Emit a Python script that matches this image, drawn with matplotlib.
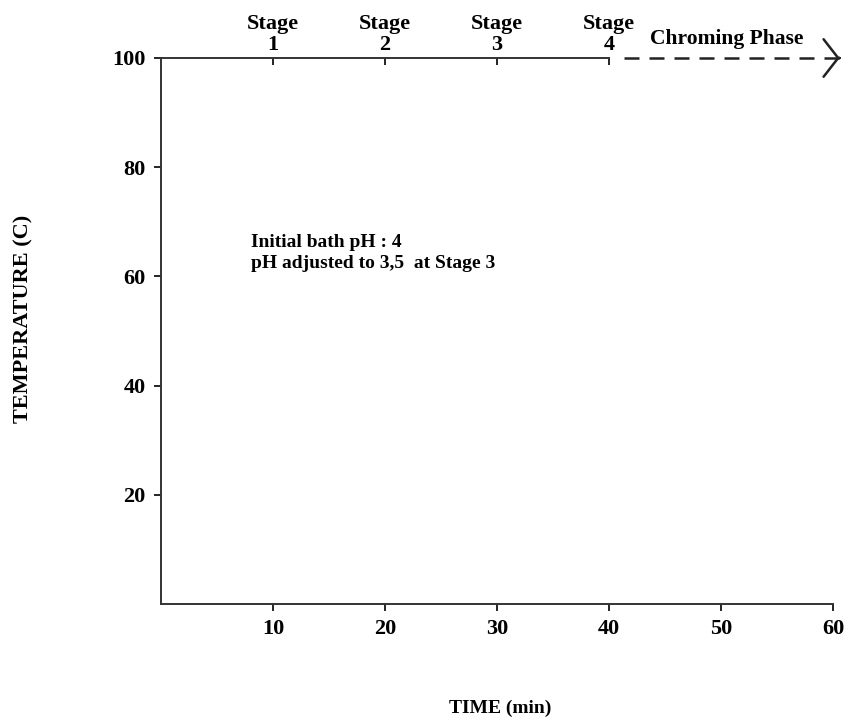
import matplotlib
matplotlib.use("Agg")
import matplotlib.pyplot as plt

plt.rcParams['font.family'] = ['Liberation Serif', 'DejaVu Serif']
plt.rcParams['font.weight'] = 'bold'

# axis values
time_ticks = [10, 20, 30, 40, 50, 60]
temp_ticks = [20, 40, 60, 80, 100]
stage_pos = [10, 20, 30, 40]
stage_labels = ['Stage\n1', 'Stage\n2', 'Stage\n3', 'Stage\n4']
chrome_span = [41.3, 60.6]
chrome_level = [100, 100]
note_lines = ['Initial bath pH : 4', 'pH adjusted to 3,5  at Stage 3']

fig = plt.figure(figsize=(8.44, 7.24), dpi=100)
ax = fig.add_axes([0.1908, 0.1657, 0.7962, 0.7542])

ax.set_xlim(0, 60)
ax.set_ylim(0, 100)
ax.set_xticks(time_ticks)
ax.set_yticks(temp_ticks)
ax.tick_params(axis='both', direction='out', length=5, width=1.2, labelsize=16, pad=6)
ax.spines['top'].set_visible(False)
ax.spines['right'].set_visible(False)
for s in ['left', 'bottom']:
    ax.spines[s].set_linewidth(1.4)
    ax.spines[s].set_color('#333333')
for lab in ax.get_xticklabels() + ax.get_yticklabels():
    lab.set_fontweight('bold')

# stage line on top
sec = ax.secondary_xaxis('top')
sec.set_xticks(stage_pos, labels=stage_labels)
sec.spines['top'].set_bounds(0, 40)
sec.spines['top'].set_linewidth(1.4)
sec.spines['top'].set_color('#333333')
sec.tick_params(direction='in', length=5, width=1.2, labelsize=16, pad=2)
for lab in sec.get_xticklabels():
    lab.set_fontweight('bold')
    lab.set_linespacing(1.1)

# chroming phase: dashed line + solid open arrowhead
ax.plot(chrome_span, chrome_level, color='#222222', lw=1.8,
        dashes=(6, 4), clip_on=False)
ax.annotate('', xy=(chrome_span[1], chrome_level[1]),
            xytext=(chrome_span[1] - 0.3, chrome_level[1]),
            arrowprops=dict(arrowstyle='->,head_length=0.35,head_width=0.45',
                            lw=1.8, color='#222222', mutation_scale=30),
            annotation_clip=False)
ax.text(50.5, 101.6, 'Chroming Phase', ha='center', va='bottom',
        fontsize=15.5, fontweight='bold')

ax.text(8.0, 67.8, '\n'.join(note_lines), ha='left', va='top',
        fontsize=14, fontweight='bold', linespacing=1.35)

fig.text(0.593, 0.022, 'TIME (min)', ha='center', va='center',
         fontsize=14, fontweight='bold')
fig.text(0.028, 0.56, 'TEMPERATURE (C)', ha='center', va='center',
         rotation=90, fontsize=16, fontweight='bold')

fig.savefig('out.png', dpi=100)
